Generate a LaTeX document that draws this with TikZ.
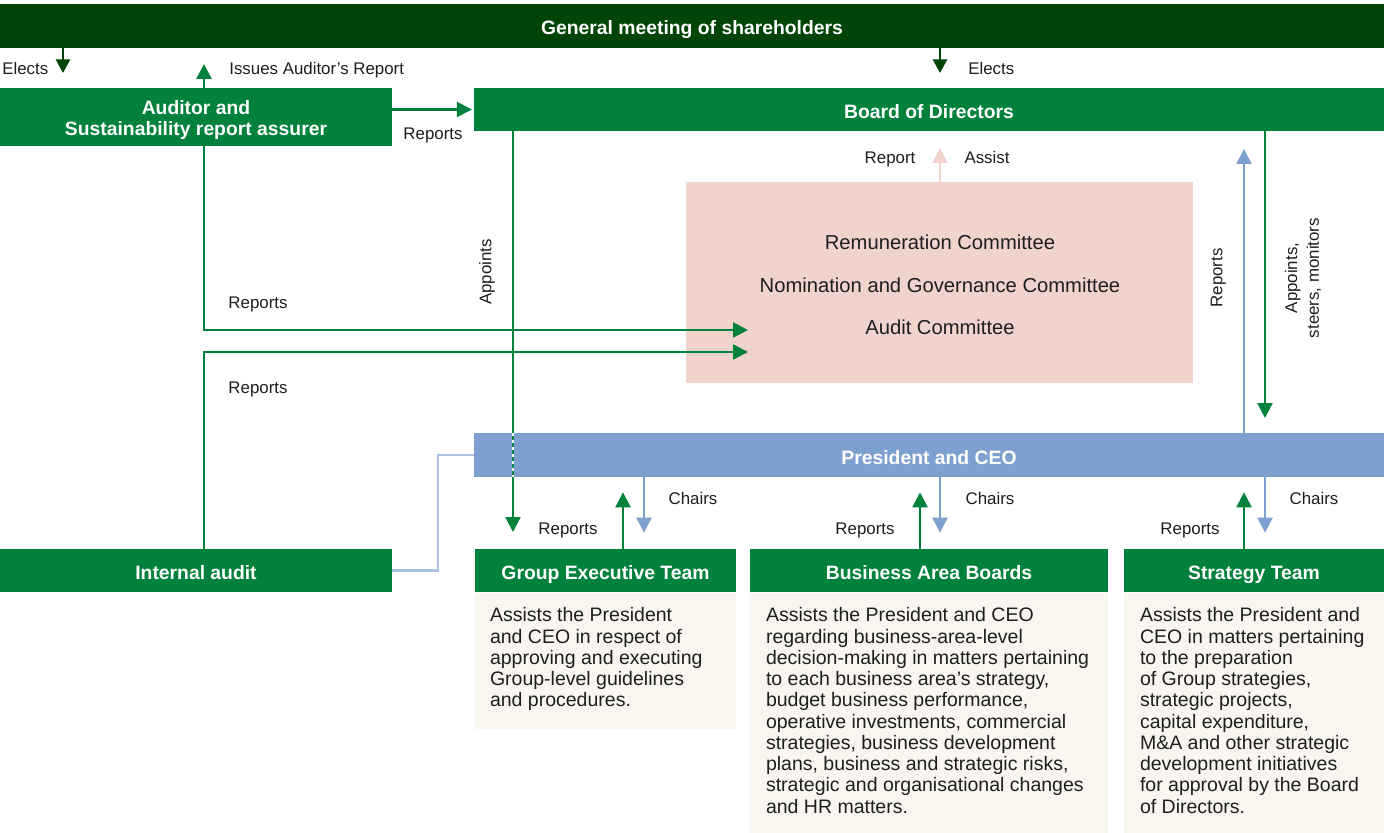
\documentclass[tikz,border=0pt]{standalone}
\usepackage{fontspec}
\setmainfont{Liberation Sans}
\usetikzlibrary{arrows.meta, positioning, calc, backgrounds}
\definecolor{gmgreen}{RGB}{0,69,7}
\definecolor{boxgreen}{RGB}{0,130,60}
\definecolor{ceoblue}{RGB}{126,160,208}
\definecolor{linkblue}{RGB}{168,193,228}
\definecolor{compink}{RGB}{239,211,204}
\definecolor{desccream}{RGB}{248,246,239}
\definecolor{textgray}{RGB}{30,30,30}

\begin{document}
\begin{tikzpicture}[
        >={Triangle[length=0.3cm, width=0.3cm]},
        bar/.style={rectangle, fill=boxgreen, inner sep=0pt, minimum height=0.86cm, align=center, text=white, font=\fontsize{11}{11.9}\selectfont\bfseries},
        tbar/.style={bar, text height=0.36cm, text depth=0pt},
        combox/.style={rectangle, fill=compink, inner sep=0pt},
        comtext/.style={inner sep=0pt, text height=0.72em, text depth=0pt, text=textgray, font=\fontsize{11.5}{13}\selectfont},
        descbg/.style={rectangle, fill=desccream, inner sep=0pt},
        desc/.style={anchor=north west, inner sep=0pt, align=left, text=textgray, font=\fontsize{11.1}{12.1}\selectfont},
        lbl/.style={inner sep=0pt, text height=0.72em, text depth=0pt, text=textgray, font=\fontsize{9.6}{11}\selectfont},
        vlbl/.style={inner sep=0pt, align=center, text=textgray, font=\fontsize{9.6}{12.3}\selectfont},
        garrow/.style={->, line width=1.3pt, draw=boxgreen},
        darrow/.style={-{Triangle[length=0.27cm, width=0.28cm]}, line width=1.3pt, draw=gmgreen},
        barrow/.style={->, line width=1.3pt, draw=ceoblue},
        parrow/.style={->, line width=1.3pt, draw=compink},
        bline/.style={line width=1.3pt, draw=linkblue}
    ]
    \useasboundingbox (0,0) rectangle (27.68,-16.66);

    %% --- Shareholders bar ---
    \node[tbar, fill=gmgreen, minimum width=27.68cm, minimum height=0.88cm] (gm) at (13.84,-0.52) {General meeting of shareholders};

    %% --- Board, committees, CEO ---
    \node[tbar, minimum width=18.2cm] (board) at (18.58,-2.19) {Board of Directors};
    \node[combox, minimum width=10.14cm, minimum height=4.02cm] (com) at (18.79,-5.65) {};
    \node[comtext] (remcom) at (18.8,-4.86) {Remuneration Committee};
    \node[comtext] (nomcom) at (18.8,-5.72) {Nomination and Governance Committee};
    \node[comtext] (audcom) at (18.8,-6.56) {Audit Committee};
    \node[tbar, fill=ceoblue, minimum width=18.2cm, minimum height=0.88cm] (ceo) at (18.58,-9.1) {President and CEO};

    %% --- Auditor reports: up to shareholders, right to Audit Committee (runs behind auditor box) ---
    \coordinate (issue) at (4.08,-1.28);
    \coordinate (acin1) at (14.96,-6.6);
    \coordinate (acin2) at (14.96,-7.04);
    \draw[garrow, <->] (issue) -- (issue |- acin1) -- (acin1);

    %% --- Left column ---
    \node[bar, text height=0.82cm, minimum width=7.84cm, minimum height=1.16cm] (aud) at (3.92,-2.34) {Auditor and\\Sustainability report assurer};
    \node[tbar, minimum width=7.84cm] (ia) at (3.92,-11.41) {Internal audit};

    %% --- Teams + description panels ---
    \node[tbar, minimum width=5.22cm] (get) at (12.11,-11.41) {Group Executive Team};
    \node[tbar, minimum width=7.16cm] (bab) at (18.58,-11.41) {Business Area Boards};
    \node[tbar, minimum width=5.2cm]  (st)  at (25.08,-11.41) {Strategy Team};

    \node[descbg, minimum width=5.22cm, minimum height=2.72cm, below=0pt of get] (getbg) {};
    \node[descbg, minimum width=7.16cm, minimum height=4.8cm, below=0pt of bab] (babbg) {};
    \node[descbg, minimum width=5.2cm, minimum height=4.8cm, below=0pt of st] (stbg) {};

    \node[desc] (gettxt) at ([xshift=0.3cm, yshift=-0.3cm]getbg.north west)
        {Assists the President\\and CEO in respect of\\approving and executing\\Group-level guidelines\\and procedures.};
    \node[desc] (babtxt) at ([xshift=0.32cm, yshift=-0.3cm]babbg.north west)
        {Assists the President and CEO\\regarding business-area-level\\decision-making in matters pertaining\\to each business area’s strategy,\\budget business performance,\\operative investments, commercial\\strategies, business development\\plans, business and strategic risks,\\strategic and organisational changes\\and HR matters.};
    \node[desc] (sttxt) at ([xshift=0.32cm, yshift=-0.3cm]stbg.north west)
        {Assists the President and\\CEO in matters pertaining\\to the preparation\\of Group strategies,\\strategic projects,\\capital expenditure,\\M\&A and other strategic\\development initiatives\\for approval by the Board\\of Directors.};

    %% --- Elects ---
    \coordinate (elL) at (1.26,-1.46);
    \coordinate (elR) at (18.8,-1.46);
    \draw[darrow] (gm.south -| elL) -- (elL);
    \draw[darrow] (gm.south -| elR) -- (elR);
    \node[lbl, anchor=west] (elLlbl) at (0.04,-1.36) {Elects};
    \node[lbl, anchor=west] (elRlbl) at (19.36,-1.36) {Elects};

    %% --- Auditor -> Board, internal audit -> Audit Committee ---
    \draw[garrow, shorten >=1pt] (aud.east |- board.west) -- (board.west);
    \node[lbl] (audrep) at (8.66,-2.66) {Reports};
    \node[lbl, anchor=west] (issuelbl) at (4.58,-1.36) {Issues Auditor’s Report};
    \draw[garrow] (ia.north -| issue) |- (acin2);
    \node[lbl] (rep1) at (5.16,-6.04) {Reports};
    \node[lbl] (rep2) at (5.16,-7.74) {Reports};

    %% --- Appoints (crosses CEO bar dashed) ---
    \coordinate (apx) at (10.26,-10.64);
    \draw[garrow] (board.south -| apx) -- (apx);
    \draw[white, line width=1.3pt, dash pattern=on 2pt off 2pt] (ceo.north -| apx) -- (ceo.south -| apx);
    \node[lbl, rotate=90] (applbl) at (9.7,-5.44) {Appoints};

    %% --- Committees -> Board ---
    \coordinate (comup) at (18.8,-2.96);
    \draw[parrow] (com.north -| comup) -- (comup);
    \node[lbl] (comrep) at (17.8,-3.14) {Report};
    \node[lbl] (comass) at (19.74,-3.14) {Assist};

    %% --- Board <-> CEO ---
    \coordinate (ceorep) at (24.88,-2.98);
    \coordinate (bdapp) at (25.3,-8.36);
    \draw[barrow] (ceo.north -| ceorep) -- (ceorep);
    \draw[garrow] (board.south -| bdapp) -- (bdapp);
    \node[lbl, rotate=90] (ceoreplbl) at (24.32,-5.56) {Reports};
    \node[vlbl, rotate=90] (bdapplbl) at (26.06,-5.56) {Appoints,\\steers, monitors};

    %% --- Internal audit -> CEO ---
    \draw[bline] (ia.east) -- ++(0.92,0) |- (ceo.west);

    %% --- CEO <-> teams ---
    \draw[garrow, shorten >=0.3cm]  ([xshift=0.35cm]get.north) -- ([xshift=0.35cm]get.north |- ceo.south);
    \draw[barrow, shorten >=0.32cm] ([xshift=0.77cm]get.north |- ceo.south) -- ([xshift=0.77cm]get.north);
    \draw[garrow, shorten >=0.3cm]  ([xshift=-0.18cm]bab.north) -- ([xshift=-0.18cm]bab.north |- ceo.south);
    \draw[barrow, shorten >=0.32cm] ([xshift=0.22cm]bab.north |- ceo.south) -- ([xshift=0.22cm]bab.north);
    \draw[garrow, shorten >=0.3cm]  ([xshift=-0.2cm]st.north) -- ([xshift=-0.2cm]st.north |- ceo.south);
    \draw[barrow, shorten >=0.32cm] ([xshift=0.22cm]st.north |- ceo.south) -- ([xshift=0.22cm]st.north);

    \node[lbl] (getrep) at (11.36,-10.56) {Reports};
    \node[lbl] (getch)  at (13.86,-9.96)  {Chairs};
    \node[lbl] (babrep) at (17.3,-10.56)  {Reports};
    \node[lbl] (babch)  at (19.8,-9.96)   {Chairs};
    \node[lbl] (strep)  at (23.8,-10.56)  {Reports};
    \node[lbl] (stch)   at (26.28,-9.96)  {Chairs};

\end{tikzpicture}
\end{document}
